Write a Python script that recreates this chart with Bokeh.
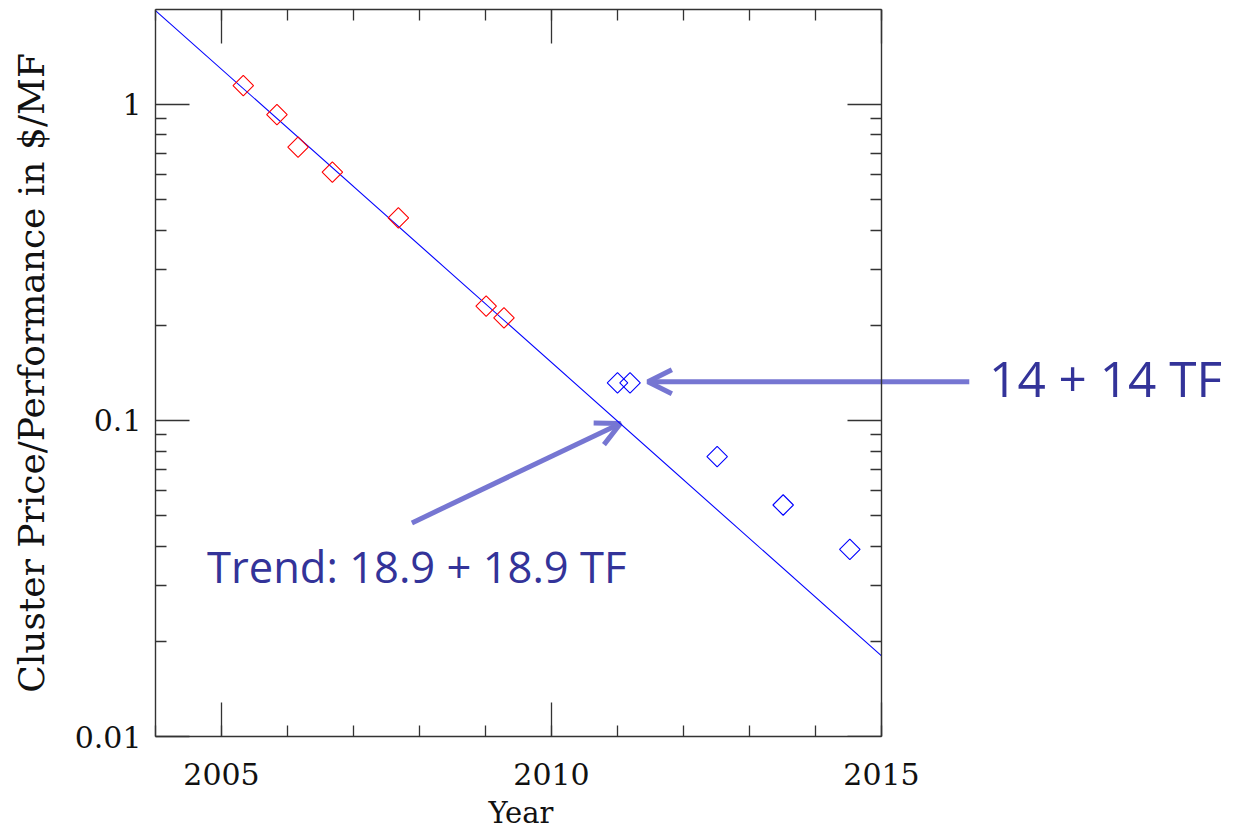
import math
from bokeh.plotting import figure
from bokeh.models import (Range1d, FixedTicker, LinearAxis, LogAxis, Label, Arrow,
                          OpenHead, CustomJSTickFormatter, Title)
from bokeh.embed import file_html
from bokeh.resources import INLINE

# ---- data ----
red_years = [2005.33, 2005.84, 2006.16, 2006.68, 2007.68, 2009.01, 2009.28]
red_values = [1.146, 0.928, 0.732, 0.610, 0.4375, 0.230, 0.211]
blue_years = [2011.00, 2011.19, 2012.51, 2013.51, 2014.52]
blue_values = [0.1315, 0.1315, 0.0768, 0.0540, 0.0391]
trend_years = [2004.0, 2015.0]
trend_values = [1.98, 0.018]

x_ticks = [2005, 2010, 2015]
x_minor = list(range(2004, 2016))
y_ticks = [0.01, 0.1, 1]
y_minor = [m * 10.0 ** d for d in (-2, -1, 0) for m in range(2, 10)]

x_label = "Year"
y_label = "Cluster Price/Performance in $/MF"
note_right = "14 + 14 TF"
note_trend = "Trend: 18.9 + 18.9 TF"

AX = "#333333"
SERIF = "DejaVu Serif"
ARROW = "#7676D2"
NOTE = "#333399"

X0, X1 = 2004, 2015          # plot box in data units
BOX_W = 726                  # plot box width in px
FRAME_W = 1072               # frame extends right to hold the annotations
x_end = X0 + (X1 - X0) * FRAME_W / BOX_W

p = figure(frame_width=FRAME_W, frame_height=727,
           min_border_left=155, min_border_right=2,
           min_border_top=9, min_border_bottom=0,
           x_range=Range1d(X0, x_end), y_range=Range1d(0.01, 10 ** 0.3),
           y_axis_type="log", output_backend="svg", toolbar_location=None,
           background_fill_color="white", border_fill_color="white")
p.outline_line_color = None
p.xgrid.visible = False
p.ygrid.visible = False


def style_axis(ax, show_labels):
    ax.axis_line_color = AX
    ax.axis_line_width = 1.4
    ax.major_tick_line_color = AX
    ax.minor_tick_line_color = AX
    ax.major_tick_line_width = 1.3
    ax.minor_tick_line_width = 1.3
    ax.major_tick_in = 34
    ax.major_tick_out = 0
    ax.minor_tick_in = 11
    ax.minor_tick_out = 0
    ax.major_label_text_font = SERIF
    ax.major_label_text_color = "#111111"
    if show_labels:
        ax.major_label_text_font_size = "30px"
    else:
        ax.major_label_text_font_size = "1px"
        ax.major_label_text_color = None
        ax.major_label_standoff = 0


xt = FixedTicker(ticks=x_ticks, minor_ticks=x_minor)
yt = FixedTicker(ticks=y_ticks, minor_ticks=y_minor)

xa = p.xaxis[0]
xa.ticker = xt
xa.bounds = (X0, X1)
style_axis(xa, True)
xa.major_label_standoff = 26

ya = p.yaxis[0]
ya.ticker = yt
ya.formatter = CustomJSTickFormatter(code="return String(tick)")
style_axis(ya, True)
ya.major_label_standoff = 14
ya.axis_label = y_label
ya.axis_label_text_font = SERIF
ya.axis_label_text_font_size = "36px"
ya.axis_label_text_font_style = "normal"
ya.axis_label_text_color = "#111111"
ya.axis_label_standoff = 20

top = LinearAxis(ticker=xt, bounds=(X0, X1))
style_axis(top, False)
p.add_layout(top, "above")
right = LogAxis(ticker=yt, fixed_location=X1)
style_axis(right, False)
p.add_layout(right, "right")

# x-axis title, centred under the plot box (not the wider frame)
p.add_layout(Title(text=x_label, align="left", offset=333, standoff=12,
                   vertical_align="bottom",
                   text_font=SERIF, text_font_size="29px",
                   text_font_style="normal", text_color="#111111"), "below")

# trend line and points
p.line(trend_years, trend_values, line_color="#0000ff", line_width=1.1)
p.scatter(red_years, red_values, marker="square", angle=math.pi / 4, size=14.5,
          fill_color=None, line_color="#ff0000", line_width=1.1)
p.scatter(blue_years, blue_values, marker="square", angle=math.pi / 4, size=14.5,
          fill_color=None, line_color="#0000ff", line_width=1.1)

# annotations
p.add_layout(Arrow(end=OpenHead(size=24, line_width=5, line_color=ARROW),
                   x_start=2016.33, y_start=0.1325, x_end=2011.46, y_end=0.1325,
                   line_width=5, line_color=ARROW, level="underlay"))
p.add_layout(Arrow(end=OpenHead(size=24, line_width=5, line_color=ARROW),
                   x_start=2007.885, y_start=0.0474, x_end=2011.045, y_end=0.0978,
                   line_width=5, line_color=ARROW, level="underlay"))
p.add_layout(Label(x=2016.63, y=0.1362, text=note_right, text_align="left",
                   text_baseline="alphabetic", text_font="Open Sans",
                   text_font_size="49.5px", text_color=NOTE))
p.add_layout(Label(x=2004.78, y=0.0345, text=note_trend, text_align="left",
                   text_baseline="alphabetic", text_font="Open Sans",
                   text_font_size="43.5px", text_color=NOTE))

open("out.html", "w").write(file_html(p, INLINE))
